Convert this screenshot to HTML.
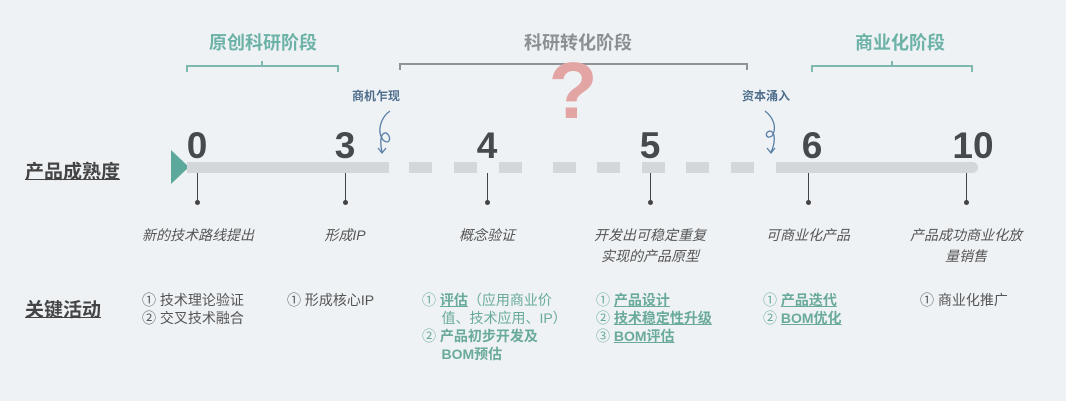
<!DOCTYPE html>
<html><head><meta charset="utf-8"><style>
*{margin:0;padding:0;box-sizing:border-box}
body{width:1066px;height:401px;background:#eef2f5;font-family:"Liberation Sans","Noto Sans CJK SC",sans-serif;position:relative;overflow:hidden}
.a{position:absolute;white-space:nowrap}
.t{font-size:18px;font-weight:bold;transform:translateX(-50%)}
.n{font-size:37px;font-weight:bold;color:#474a4d;transform:translateX(-50%);top:126px;line-height:40px}
.v{position:absolute;width:1px;background:#444;top:173px;height:30px}
.d{position:absolute;width:5px;height:5px;border-radius:50%;background:#444;top:200px}
.l{font-size:14px;font-style:italic;color:#555;transform:translateX(-50%);text-align:center;line-height:21px;top:225px}
.k{font-size:14px;color:#555;line-height:18px;top:291px}
.g{color:#6aaa9c}
.g b{text-decoration:underline;font-weight:bold}
.dash{position:absolute;top:162px;height:11px;width:23px;background:#d4d7d9}
</style></head><body>
<div class="a t" style="left:263px;top:29px;color:#6cb2a6">原创科研阶段</div>
<div class="a t" style="left:578px;top:29px;color:#8c8f92">科研转化阶段</div>
<div class="a t" style="left:900px;top:29px;color:#6cb2a6">商业化阶段</div>
<svg class="a" style="left:0;top:0" width="1066" height="401">
<path d="M187 72V66H338V72M262 66V61" fill="none" stroke="#7fb8ae" stroke-width="2"/>
<path d="M400 70V64H747V70" fill="none" stroke="#8f9396" stroke-width="2"/>
<path d="M812 72V66H972V72M892 66V61" fill="none" stroke="#7fb8ae" stroke-width="2"/>
<text x="573" y="118" font-size="80" font-weight="bold" fill="#e3a4a4" text-anchor="middle" font-family="Liberation Sans, sans-serif">?</text>
<path d="M171 150L189 167L171 184Z" fill="#5ca99c"/>
<path d="M390 111C380 118 377 132 383 140C390 146 392 136 386 133C380 132 380 144 382 152M378 148L382 153L386 148" fill="none" stroke="#5a7fa6" stroke-width="1.3"/>
<path d="M765 111C774 118 777 128 772 136C766 140 764 132 770 131C776 132 775 144 771 152M767 148L771 153L775 148" fill="none" stroke="#5a7fa6" stroke-width="1.3"/>
</svg>
<div class="a" style="left:187px;top:162px;width:202px;height:11px;background:#d4d7d9"></div>
<div class="dash" style="left:409px"></div><div class="dash" style="left:454px"></div><div class="dash" style="left:499px"></div>
<div class="dash" style="left:553px"></div><div class="dash" style="left:597px"></div><div class="dash" style="left:642px"></div>
<div class="dash" style="left:686px"></div><div class="dash" style="left:731px"></div>
<div class="a" style="left:776px;top:162px;width:202px;height:11px;background:#d4d7d9;border-radius:0 6px 6px 0"></div>
<div class="a" style="left:352px;top:87px;font-size:12px;font-weight:bold;color:#4f6e8c">商机乍现</div>
<div class="a" style="left:742px;top:87px;font-size:12px;font-weight:bold;color:#4f6e8c">资本涌入</div>
<div class="a n" style="left:197px">0</div>
<div class="a n" style="left:345px">3</div>
<div class="a n" style="left:487px">4</div>
<div class="a n" style="left:650px">5</div>
<div class="a n" style="left:812px">6</div>
<div class="a n" style="left:973px">10</div>
<div class="v" style="left:197px"></div><div class="d" style="left:195px"></div>
<div class="v" style="left:345px"></div><div class="d" style="left:343px"></div>
<div class="v" style="left:487px"></div><div class="d" style="left:485px"></div>
<div class="v" style="left:650px"></div><div class="d" style="left:648px"></div>
<div class="v" style="left:808px"></div><div class="d" style="left:806px"></div>
<div class="v" style="left:966px"></div><div class="d" style="left:964px"></div>
<div class="a l" style="left:198px">新的技术路线提出</div>
<div class="a l" style="left:345px">形成IP</div>
<div class="a l" style="left:487px">概念验证</div>
<div class="a l" style="left:650px">开发出可稳定重复<br>实现的产品原型</div>
<div class="a l" style="left:808px">可商业化产品</div>
<div class="a l" style="left:966px">产品成功商业化放<br>量销售</div>
<div class="a" style="left:25px;top:157px;font-size:19px;font-weight:bold;color:#444;text-decoration:underline">产品成熟度</div>
<div class="a" style="left:25px;top:295px;font-size:19px;font-weight:bold;color:#444;text-decoration:underline">关键活动</div>
<div class="a k" style="left:142px">① 技术理论验证<br>② 交叉技术融合</div>
<div class="a k" style="left:287px">① 形成核心IP</div>
<div class="a k g" style="left:422px">① <b>评估</b>（应用商业价<br>&nbsp;&nbsp;&nbsp;&nbsp;&nbsp;值、技术应用、IP）<br>② <b style="text-decoration:none">产品初步开发及</b><br>&nbsp;&nbsp;&nbsp;&nbsp;&nbsp;<b style="text-decoration:none">BOM预估</b></div>
<div class="a k g" style="left:596px">① <b>产品设计</b><br>② <b>技术稳定性升级</b><br>③ <b>BOM评估</b></div>
<div class="a k g" style="left:763px">① <b>产品迭代</b><br>② <b>BOM优化</b></div>
<div class="a k" style="left:920px">① 商业化推广</div>
</body></html>
